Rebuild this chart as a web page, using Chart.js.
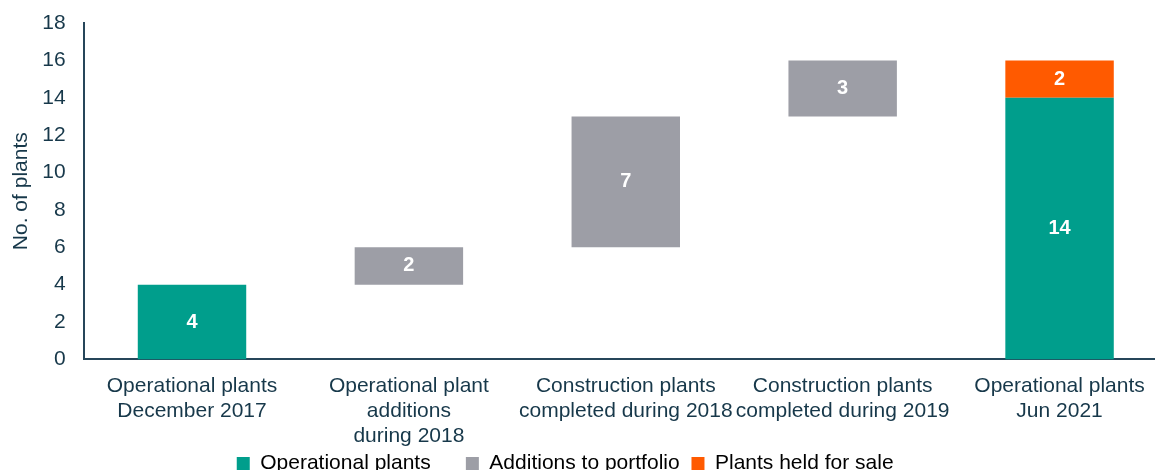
<!DOCTYPE html>
<html>
<head>
<meta charset="utf-8">
<script src="https://cdn.jsdelivr.net/npm/chart.js@4"></script>
<style>
  html, body { margin: 0; padding: 0; overflow: hidden; background: #fff; }
  #wrap { width: 1170px; height: 484px; }
</style>
</head>
<body>
<div id="wrap"><canvas id="plantsChart"></canvas></div>
<script>
// chart values
const categories = [
  ["Operational plants", "December 2017"],
  ["Operational plant", "additions", "during 2018"],
  ["Construction plants", "completed during 2018"],
  ["Construction plants", "completed during 2019"],
  ["Operational plants", "Jun 2021"]
];
const seriesNames = ["Operational plants", "Additions to portfolio", "Plants held for sale"];
const operational = [4, null, null, null, 14];
const additions = [null, 2, 7, 3, null];
const heldForSale = [null, null, null, null, 2];
const yTicks = [0, 2, 4, 6, 8, 10, 12, 14, 16, 18];

const textColor = "#17384a";
const axisColor = "#26465a";

// build floating [start, end] ranges for the waterfall
let running = 0;
const opRanges = [], addRanges = [], saleRanges = [];
for (let i = 0; i < categories.length; i++) {
  if (operational[i] != null) {
    opRanges.push([0, operational[i]]);
    running = operational[i];
  } else opRanges.push(null);
  if (additions[i] != null) {
    addRanges.push([running, running + additions[i]]);
    running += additions[i];
  } else addRanges.push(null);
  if (heldForSale[i] != null) {
    saleRanges.push([running, running + heldForSale[i]]);
    running += heldForSale[i];
  } else saleRanges.push(null);
}

const valueLabels = {
  id: "valueLabels",
  afterDatasetsDraw(chart) {
    const ctx = chart.ctx;
    const sources = [operational, additions, heldForSale];
    ctx.save();
    ctx.fillStyle = "#ffffff";
    ctx.font = "bold 20px 'Liberation Sans', Arial, sans-serif";
    ctx.textAlign = "center";
    ctx.textBaseline = "middle";
    chart.data.datasets.forEach((ds, di) => {
      chart.getDatasetMeta(di).data.forEach((bar, i) => {
        if (sources[di][i] == null) return;
        ctx.fillText(sources[di][i], bar.x, (bar.y + bar.base) / 2);
      });
    });
    ctx.restore();
  }
};

Chart.defaults.font.family = "'Liberation Sans', Arial, sans-serif";
Chart.defaults.font.size = 21;
Chart.defaults.color = textColor;

// trailing spaces widen the gap between legend entries
const legendGaps = ["     ", " ", "        "];

new Chart(document.getElementById("plantsChart"), {
  type: "bar",
  data: {
    labels: categories,
    datasets: [
      { label: seriesNames[0], data: opRanges, backgroundColor: "#009e8c" },
      { label: seriesNames[1], data: addRanges, backgroundColor: "#9d9ea6" },
      { label: seriesNames[2], data: saleRanges, backgroundColor: "#ff5a00" }
    ]
  },
  options: {
    responsive: true,
    maintainAspectRatio: false,
    animation: false,
    grouped: false,
    barPercentage: 0.5,
    categoryPercentage: 1,
    layout: { padding: { top: 23, right: 2, left: 9, bottom: 0 } },
    plugins: {
      tooltip: { enabled: false },
      legend: {
        position: "bottom",
        labels: {
          boxWidth: 13,
          boxHeight: 13,
          padding: 6,
          color: textColor,
          font: { size: 21 },
          generateLabels: chart => chart.data.datasets.map((ds, i) => ({
            text: ds.label + legendGaps[i],
            fillStyle: ds.backgroundColor,
            strokeStyle: ds.backgroundColor,
            lineWidth: 0,
            datasetIndex: i,
            hidden: false
          }))
        }
      }
    },
    scales: {
      x: {
        grid: { display: false, drawTicks: false },
        border: { display: true, color: axisColor, width: 2 },
        ticks: { maxRotation: 0, autoSkip: false, padding: 14, color: textColor },
        afterFit: scale => { scale.height -= 16; }
      },
      y: {
        min: 0,
        max: 18,
        afterBuildTicks: axis => { axis.ticks = yTicks.map(v => ({ value: v })); },
        afterFit: scale => { scale.paddingTop = 0; },
        grid: { display: false, drawTicks: false },
        border: { display: true, color: axisColor, width: 2 },
        ticks: { padding: 18, color: textColor },
        title: { display: true, text: "No. of plants", color: textColor, padding: { top: 0, bottom: -10 } }
      }
    }
  },
  plugins: [valueLabels]
});
</script>
</body>
</html>
